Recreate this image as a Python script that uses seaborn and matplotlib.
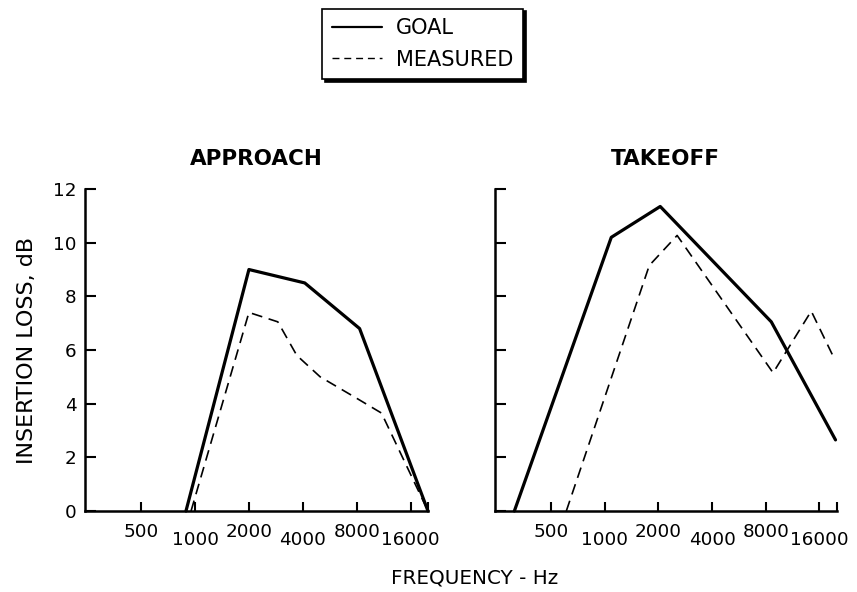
"""
Insertion loss vs frequency, approach and takeoff (goal vs measured).
"""
import numpy as np
import pandas as pd
import matplotlib
matplotlib.use('Agg')
import matplotlib.pyplot as plt
import matplotlib.transforms as mtransforms
from matplotlib.lines import Line2D
import seaborn as sns

# approach (Hz, dB)
approach_goal_freq = [890, 2000, 4100, 8300, 20000]
approach_goal_loss = [0.0, 9.0, 8.5, 6.8, 0.0]
approach_meas_freq = [950, 2000, 2900, 3700, 5000, 8000, 11000, 20000]
approach_meas_loss = [0.0, 7.4, 7.05, 5.8, 5.0, 4.2, 3.65, 0.0]

# takeoff
takeoff_goal_freq = [312, 1090, 2050, 8600, 19700]
takeoff_goal_loss = [0.0, 10.2, 11.35, 7.05, 2.65]
takeoff_meas_freq = [610, 1780, 2550, 8800, 14400, 19000]
takeoff_meas_loss = [0.0, 9.15, 10.27, 5.15, 7.45, 5.8]

xtick_freqs = [500, 1000, 2000, 4000, 8000, 16000]
xtick_labels = ['500', '1000', '2000', '4000', '8000', '16000']
ytick_vals = [0, 2, 4, 6, 8, 10, 12]

sns.set_theme(style='ticks')
plt.rcParams['font.family'] = ['DejaVu Sans']
plt.rcParams['axes.edgecolor'] = 'black'
plt.rcParams['axes.labelcolor'] = 'black'
plt.rcParams['text.color'] = 'black'
plt.rcParams['xtick.color'] = 'black'
plt.rcParams['ytick.color'] = 'black'


def draw_panel(ax, title, goal_f, goal_l, meas_f, meas_l, show_ylabels):
    sns.lineplot(x=goal_f, y=goal_l, ax=ax, color='black', linewidth=2.3)
    sns.lineplot(x=meas_f, y=meas_l, ax=ax, color='black', linewidth=1.2)
    ax.lines[1].set_dashes((6.5, 4))
    for ln in ax.lines:
        ln.set_clip_on(False)

    ax.set_xscale('log', base=2)
    ax.set_xlim(243, 20000)
    ax.set_ylim(0, 12)
    ax.set_xticks(xtick_freqs + [20000])
    ax.set_xticklabels(xtick_labels + [''], fontsize=13.2)
    ax.xaxis.set_minor_locator(matplotlib.ticker.NullLocator())
    ax.set_yticks(ytick_vals)
    if show_ylabels:
        ax.set_yticklabels([str(v) for v in ytick_vals], fontsize=13.2)
    else:
        ax.set_yticklabels([])

    ax.tick_params(axis='y', direction='in', length=8, width=1.5, pad=6)
    ax.tick_params(axis='x', direction='in', length=6.5, width=1.5, pad=8.5)
    sns.despine(ax=ax)
    for side in ['left', 'bottom']:
        ax.spines[side].set_linewidth(1.8)

    # staggered frequency labels: every other one dropped a little
    shift = mtransforms.ScaledTranslation(0, -6 / 72, ax.figure.dpi_scale_trans)
    for i, lab in enumerate(ax.get_xticklabels()):
        if i % 2 == 1:
            lab.set_transform(lab.get_transform() + shift)

    ax.set_title(title, fontsize=15.5, fontweight='bold', pad=17)
    ax.set_xlabel('')
    ax.set_ylabel('')


fig = plt.figure(figsize=(8.57, 5.92), dpi=100)
ax1 = fig.add_axes([0.0992, 0.1368, 0.4002, 0.5439])
ax2 = fig.add_axes([0.5776, 0.1368, 0.3987, 0.5439])

draw_panel(ax1, 'APPROACH', approach_goal_freq, approach_goal_loss,
           approach_meas_freq, approach_meas_loss, True)
draw_panel(ax2, 'TAKEOFF', takeoff_goal_freq, takeoff_goal_loss,
           takeoff_meas_freq, takeoff_meas_loss, False)

ax1.set_ylabel('INSERTION LOSS, dB', fontsize=16, labelpad=12)
fig.text(0.554, 1 - 577.5 / 592, 'FREQUENCY - Hz', fontsize=14.3,
         ha='center', va='center')

handles = [Line2D([], [], color='black', linewidth=1.6),
           Line2D([], [], color='black', linewidth=1.0, dashes=(5, 3.5))]
leg = fig.legend(handles, ['GOAL', 'MEASURED'], loc='center',
                 bbox_to_anchor=(0.493, 0.926), fontsize=15, frameon=True,
                 fancybox=False, shadow={'color': 'black', 'alpha': 1},
                 handlelength=2.4, handletextpad=0.7, labelspacing=0.55,
                 borderpad=0.45)
leg.get_frame().set_edgecolor('black')
leg.get_frame().set_linewidth(1.2)
leg.get_frame().set_facecolor('white')

fig.savefig('out.png', dpi=100)
plt.close(fig)
